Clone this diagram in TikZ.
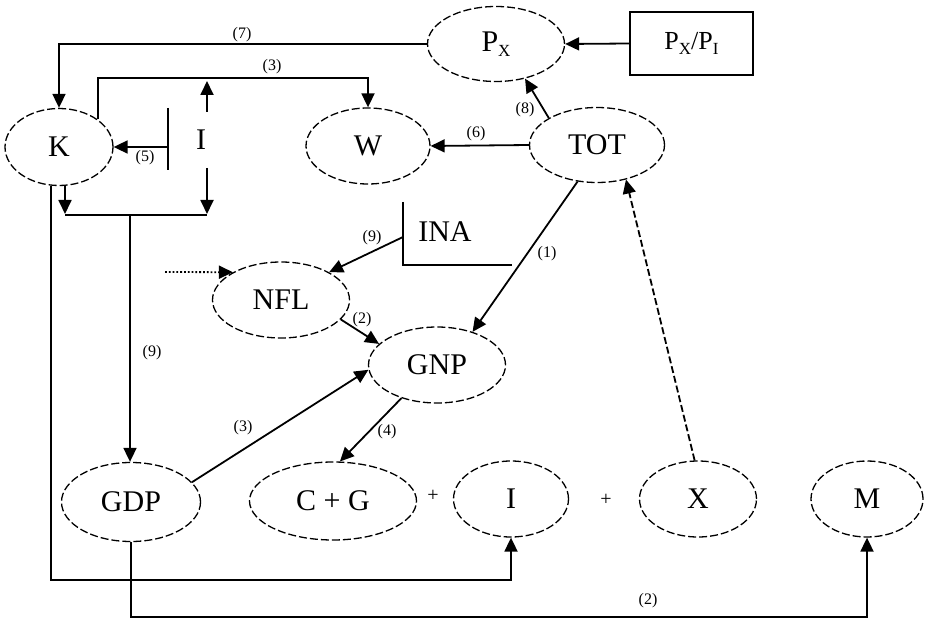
\documentclass[tikz,border=0pt]{standalone}
\usepackage{fontspec}
\setmainfont{Liberation Serif}
\usetikzlibrary{shapes.geometric,arrows.meta,calc}
\newcommand\sx[1]{\raisebox{-5pt}{\fontsize{17}{17}\selectfont #1}}
\begin{document}
\begin{tikzpicture}[x=1pt,y=-1pt,
  ell/.style={ellipse,draw,dash pattern=on 8pt off 3pt,line width=1.3pt,inner sep=0pt,font=\fontsize{30}{32}\selectfont},
  arr/.style={line width=1.8pt,-{Triangle[length=14pt,width=13pt]}},
  ln/.style={line width=1.8pt},
  lab/.style={font=\fontsize{16}{18}\selectfont,inner sep=1pt},
  big/.style={font=\fontsize{30}{32}\selectfont,inner sep=0pt}]
\useasboundingbox (0,0) rectangle (925,620);
% nodes
\node[ell,minimum width=137pt,minimum height=75pt] (PX) at (496,44) {P\sx{X}};
\node[draw,line width=1.8pt,minimum width=123pt,minimum height=63pt,inner sep=0pt,font=\fontsize{26}{28}\selectfont] (PXPI) at (691.5,43.5) {P\sx{X}/P\sx{I}};
\node[ell,minimum width=108pt,minimum height=77pt] (K) at (59,147) {K};
\node[ell,minimum width=124pt,minimum height=76pt] (W) at (368,146) {W};
\node[ell,minimum width=135pt,minimum height=75pt] (TOT) at (597,145) {TOT};
\node[ell,minimum width=137pt,minimum height=76pt] (NFL) at (281,300) {NFL};
\node[ell,minimum width=137pt,minimum height=76pt] (GNP) at (437,365) {GNP};
\node[ell,minimum width=139pt,minimum height=79pt] (GDP) at (131,502) {GDP};
\node[ell,minimum width=167pt,minimum height=78pt] (CG) at (333,501) {C + G};
\node[ell,minimum width=115pt,minimum height=76pt] (I2) at (511,499) {I};
\node[ell,minimum width=117pt,minimum height=76pt] (X) at (698,499) {X};
\node[ell,minimum width=112pt,minimum height=76pt] (M) at (867,499) {M};
\node[big] (Itxt) at (201,140) {I};
\node[big] (INA) at (445,232) {INA};
\node[lab,font=\fontsize{20}{20}\selectfont] (p1) at (433,496) {+};
\node[lab,font=\fontsize{20}{20}\selectfont] (p2) at (606,500) {+};
% coordinates
\coordinate (ibt) at (168,108);
\coordinate (ibb) at (168,170);
\coordinate (ib) at (168,147);
\coordinate (iup0) at (207,112);
\coordinate (iup1) at (207,81);
\coordinate (idn0) at (207,168);
\coordinate (idn1) at (207,214);
\coordinate (kdn1) at (65,214);
\coordinate (jn) at (130,215);
\coordinate (kw) at (95,78);
\coordinate (inat) at (403,202);
\coordinate (inab) at (403,265);
\coordinate (inar) at (512,265);
\coordinate (inaa) at (403,237);
\coordinate (nfin) at (165,272);
\coordinate (low) at (47,580);
\coordinate (bot) at (131,617);
% I bracket and INA bracket
\draw[ln] (ibt) -- (ibb);
\draw[ln] (inat) -- (inab) -- (inar);
% connectors
\draw[arr] (PX.west) -| (K.north);
\draw[arr] (K.north east) -- (K.north east |- kw) -| (W.north);
\draw[arr] (ib) -- (K.east);
\draw[arr] (iup0) -- (iup1);
\draw[arr] (idn0) -- (idn1);
\draw[arr] (kdn1 |- K.south) -- (kdn1);
\draw[ln] (kdn1 |- jn) -- (idn1 |- jn);
\draw[arr] (jn) -- (jn |- GDP.north);
\draw[arr] (PXPI.west) -- (PX.east);
\draw[arr] (TOT.north west) -- (PX.-50);
\draw[arr] (TOT.west) -- (W.east);
\draw[arr] (inaa) -- (NFL.30);
\draw[arr,dotted] (nfin) -- (NFL.150);
\draw[arr] (TOT.-118) -- (GNP.43);
\draw[arr] (NFL.-18) -- (GNP.160);
\draw[arr] (GDP.18) -- (GNP.184);
\draw[arr] (GNP.-137) -- (CG.80);
\draw[arr,dash pattern=on 7pt off 3pt] (X.95) -- (TOT.-50);
\draw[arr] (K.-102) -- (K.-102 |- low) -| (I2.south);
\draw[arr] (GDP.south) -- (bot) -| (M.south);
% labels
\node[lab] at (242,35) {(7)};
\node[lab] at (272,67) {(3)};
\node[lab] at (145,158) {(5)};
\node[lab] at (525,110) {(8)};
\node[lab] at (476,134) {(6)};
\node[lab] at (372,238) {(9)};
\node[lab] at (547,254) {(1)};
\node[lab] at (362,320) {(2)};
\node[lab] at (152,353) {(9)};
\node[lab] at (243,428) {(3)};
\node[lab] at (387,432) {(4)};
\node[lab] at (648,601) {(2)};
\end{tikzpicture}
\end{document}
